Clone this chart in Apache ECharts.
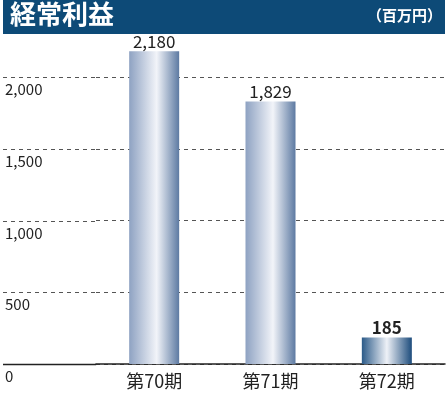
<!DOCTYPE html><html><head><meta charset="utf-8"><script src="https://cdn.jsdelivr.net/npm/echarts@6/dist/echarts.min.js"></script>
<style>html,body{margin:0;padding:0;background:#fff}#c{width:448px;height:400px}</style></head><body><div id="c"></div><script>
const categories=['第70期','第71期','第72期'];
const values=[2180,1829,185];
const yTicks=[0,500,1000,1500,2000];
const title='経常利益', unit='（百万円）';
const ff='"Noto Sans CJK JP","Noto Sans",sans-serif';
const chart=echarts.init(document.getElementById('c'));
function grad(dark){return dark?new echarts.graphic.LinearGradient(0,0,1,0,[{offset:0,color:'#2b5a88'},{offset:0.5,color:'#eef1f7'},{offset:1,color:'#1d4c7c'}]):new echarts.graphic.LinearGradient(0,0,1,0,[{offset:0,color:'#8ea2c2'},{offset:0.55,color:'#f2f4f9'},{offset:1,color:'#5d7aa2'}]);}
chart.setOption({animation:false,
grid:{left:96,right:3,top:77,bottom:36},
xAxis:{type:'category',data:categories,axisTick:{show:false},axisLine:{lineStyle:{color:'#222',width:1.5}},axisLabel:{color:'#222',fontSize:18,fontFamily:ff,margin:8}},
yAxis:{type:'value',min:0,max:2000,interval:500,axisLine:{show:false},axisTick:{show:false},
 splitLine:{lineStyle:{type:[4,4],color:'#555'}},
 axisLabel:{align:'left',margin:91,verticalAlign:'top',padding:[5,0,0,0],color:'#222',fontSize:15,fontFamily:ff,formatter:v=>yTicks.includes(v)?v.toLocaleString('en-US'):''}},
series:[{type:'bar',clip:false,barWidth:50,data:values.map((v,i)=>({value:v,itemStyle:{color:grad(i===2)},label:{fontWeight:i===2?'bold':'normal'}})),
 label:{show:true,position:'top',distance:1,color:'#222',fontSize:17,fontFamily:ff,formatter:p=>p.value.toLocaleString('en-US')}}],
graphic:[{type:'rect',shape:{x:3,y:0,width:442,height:34},style:{fill:'#0d4a77'},z:-1},
 {type:'text',left:10,top:1,style:{text:title,fill:'#fff',font:'bold 26px '+ff}},
 {type:'text',right:6,top:8,style:{text:unit,fill:'#fff',font:'bold 15px '+ff}}]});
const g=chart.getOption().graphic[0].elements.slice();
const x0=chart.convertToPixel({xAxisIndex:0},categories[0])-58;
yTicks.forEach(v=>{const y=Math.round(chart.convertToPixel({yAxisIndex:0},v))+0.5;
 g.push({type:'line',shape:{x1:3,y1:y,x2:x0,y2:y},style:{stroke:v===0?'#222':'#555',lineWidth:v===0?1.5:1,lineDash:v===0?null:[4,4]}});});
chart.setOption({graphic:g});
</script></body></html>
